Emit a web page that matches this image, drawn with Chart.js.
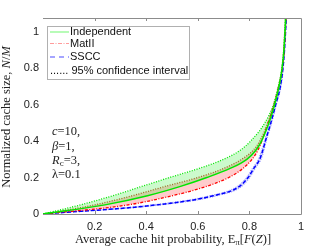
<!DOCTYPE html>
<html>
<head>
<meta charset="utf-8">
<script src="https://cdn.jsdelivr.net/npm/chart.js@4/dist/chart.umd.min.js"></script>
<style>
html,body{margin:0;padding:0;background:#fff;}
#wrap{position:relative;width:332px;height:249px;}
</style>
</head>
<body>
<div id="wrap"><canvas id="c" width="332" height="249"></canvas></div>
<script>
// Normalized cache size N/M (shared y grid)
const sizeGrid = [0, 0.05, 0.1, 0.15, 0.2, 0.25, 0.3, 0.35, 0.4, 0.5, 0.6, 0.7, 0.8, 0.9, 1.0, 1.08];
// Average cache hit probability for each series at those sizes
const indepHi = [0, 0.145, 0.27, 0.38, 0.49, 0.605, 0.70, 0.765, 0.805, 0.860, 0.893, 0.912, 0.926, 0.933, 0.937, 0.940];
const indepMean = [0, 0.24, 0.405, 0.53, 0.635, 0.725, 0.79, 0.825, 0.847, 0.876, 0.898, 0.915, 0.927, 0.934, 0.938, 0.941];
const matHi = [0, 0.20, 0.345, 0.47, 0.60, 0.70, 0.77, 0.815, 0.840, 0.872, 0.895, 0.913, 0.926, 0.933, 0.937, 0.940];
const matMean = [0, 0.33, 0.50, 0.63, 0.72, 0.775, 0.81, 0.833, 0.848, 0.872, 0.895, 0.913, 0.928, 0.935, 0.939, 0.942];
const ssccHi = [0, 0.42, 0.645, 0.75, 0.788, 0.811, 0.834, 0.847, 0.858, 0.879, 0.899, 0.917, 0.928, 0.935, 0.939, 0.942];
const ssccMean = [0, 0.44, 0.66, 0.76, 0.795, 0.817, 0.84, 0.852, 0.862, 0.883, 0.902, 0.920, 0.930, 0.936, 0.940, 0.943];
const ssccLo = [0, 0.46, 0.675, 0.77, 0.802, 0.823, 0.846, 0.857, 0.866, 0.887, 0.905, 0.923, 0.932, 0.937, 0.941, 0.944];
const xTicks = [0.2, 0.4, 0.6, 0.8, 1];
const yTicks = [0, 0.2, 0.4, 0.6, 0.8, 1];
const legendLabels = ['Independent', 'MatII', 'SSCC', '...... 95% confidence interval'];

const pts = xs => xs.map((x, i) => ({x: x, y: sizeGrid[i]}));

const LEFT = 43, TOP = 18, RIGHT = 301, BOTTOM = 214;

const frame = {
  id: 'frame',
  afterDraw(chart) {
    const ctx = chart.ctx;
    const xs = chart.scales.x;
    ctx.save();
    ctx.strokeStyle = '#8c8c8c';
    ctx.lineWidth = 1;
    ctx.beginPath();
    ctx.moveTo(LEFT, TOP + 0.5); ctx.lineTo(RIGHT + 0.5, TOP + 0.5);
    ctx.lineTo(RIGHT + 0.5, BOTTOM + 0.5); ctx.lineTo(LEFT, BOTTOM + 0.5);
    for (const v of [0.2, 0.4, 0.6, 0.8]) {
      const px = Math.round(xs.getPixelForValue(v)) + 0.5;
      ctx.moveTo(px, BOTTOM); ctx.lineTo(px, BOTTOM - 3);
      ctx.moveTo(px, TOP); ctx.lineTo(px, TOP + 3);
    }
    ctx.stroke();

    // legend
    const lx = 47, ly = 26, lw = 142, lh = 53;
    ctx.fillStyle = '#fff';
    ctx.fillRect(lx, ly, lw, lh);
    ctx.strokeStyle = '#b0b0b0';
    ctx.strokeRect(lx + 0.5, ly + 0.5, lw, lh);
    const rows = [32, 43.5, 57, 71];
    ctx.lineWidth = 1.2;
    ctx.strokeStyle = '#88f888'; ctx.setLineDash([]);
    ctx.beginPath(); ctx.moveTo(50, rows[0]); ctx.lineTo(69, rows[0]); ctx.stroke();
    ctx.strokeStyle = '#ff9a9a'; ctx.setLineDash([4, 1.5, 1, 1.5]);
    ctx.beginPath(); ctx.moveTo(50, rows[1]); ctx.lineTo(69, rows[1]); ctx.stroke();
    ctx.strokeStyle = '#8888ff'; ctx.setLineDash([5, 4]); ctx.lineWidth = 1.6;
    ctx.beginPath(); ctx.moveTo(50, rows[2]); ctx.lineTo(69, rows[2]); ctx.stroke();
    ctx.setLineDash([]);
    ctx.fillStyle = '#111';
    ctx.font = '11px "Liberation Sans", Arial, sans-serif';
    ctx.textBaseline = 'middle';
    ctx.textAlign = 'left';
    ctx.fillText(legendLabels[0], 70, rows[0]);
    ctx.fillText(legendLabels[1], 70, rows[1]);
    ctx.fillText(legendLabels[2], 70, rows[2]);
    ctx.fillText(legendLabels[3], 50, rows[3]);

    // annotation
    const serif = '"Liberation Serif", "DejaVu Serif", serif';
    const put = (parts, x, y) => {
      let cx = x;
      for (const p of parts) {
        const size = p.sub ? 9 : 12.5;
        ctx.font = (p.it ? 'italic ' : '') + size + 'px ' + serif;
        ctx.fillText(p.t, cx, y + (p.sub ? 3 : 0));
        cx += ctx.measureText(p.t).width;
      }
    };
    ctx.fillStyle = '#222';
    ctx.textBaseline = 'middle';
    put([{t: 'c', it: true}, {t: '=10,'}], 52, 132);
    put([{t: 'β', it: true}, {t: '=1,'}], 52, 147);
    put([{t: 'R', it: true}, {t: 'c', sub: true}, {t: '=3,'}], 52, 161);
    put([{t: 'λ=0.1'}], 52, 175);

    // x title
    const xt = [{t: 'Average cache hit probability, E'}, {t: 'π', sub: true}, {t: '['}, {t: 'F', it: true}, {t: '('}, {t: 'Z', it: true}, {t: ')]'}];
    let w = 0;
    for (const p of xt) { ctx.font = (p.it ? 'italic ' : '') + (p.sub ? 9 : 12.5) + 'px ' + serif; w += ctx.measureText(p.t).width; }
    put(xt, 173 - w / 2, 240);

    // y title
    ctx.save();
    ctx.translate(7, 117);
    ctx.rotate(-Math.PI / 2);
    const yt = [{t: 'Normalized cache size, '}, {t: 'N', it: true}, {t: '/'}, {t: 'M', it: true}];
    w = 0;
    for (const p of yt) { ctx.font = (p.it ? 'italic ' : '') + '12.5px ' + serif; w += ctx.measureText(p.t).width; }
    put(yt, -w / 2, 0);
    ctx.restore();
    ctx.restore();
  }
};

const G = '#00e600', R = '#ff0000', B = '#0000ff';
new Chart(document.getElementById('c'), {
  type: 'line',
  data: {
    datasets: [
      {label: 'Independent', data: pts(indepMean), borderColor: G, borderWidth: 1.5, pointRadius: 0, fill: false, order: 1},
      {label: 'indepHi', data: pts(indepHi), borderColor: G, borderWidth: 1.3, borderDash: [1, 1.5], pointRadius: 0,
        fill: {target: 0}, backgroundColor: 'rgba(0,230,0,0.2)', order: 2},
      {label: 'MatII', data: pts(matMean), borderColor: R, borderWidth: 1.3, borderDash: [3, 1.5, 1, 1.5], pointRadius: 0, fill: false, order: 3},
      {label: 'matHi', data: pts(matHi), borderColor: '#c0502a', borderWidth: 1.3, borderDash: [1, 1.5], pointRadius: 0,
        fill: {target: 2}, backgroundColor: 'rgba(255,0,0,0.2)', order: 4},
      {label: 'SSCC', data: pts(ssccMean), borderColor: B, borderWidth: 1.5, borderDash: [4, 2], pointRadius: 0, fill: false, order: 5},
      {label: 'ssccHi', data: pts(ssccHi), borderColor: 'rgba(90,90,255,0.6)', borderWidth: 1, borderDash: [1, 1.5], pointRadius: 0,
        fill: {target: 6}, backgroundColor: 'rgba(0,0,255,0.15)', order: 6},
      {label: 'ssccLo', data: pts(ssccLo), borderColor: 'rgba(90,90,255,0.6)', borderWidth: 1, borderDash: [1, 1.5], pointRadius: 0, fill: false, order: 7}
    ]
  },
  options: {
    responsive: false,
    animation: false,
    devicePixelRatio: 1,
    layout: {padding: {top: TOP, right: 332 - RIGHT, left: 0, bottom: 0}},
    elements: {line: {tension: 0.3, cubicInterpolationMode: 'monotone'}},
    plugins: {legend: {display: false}, tooltip: {enabled: false}},
    scales: {
      x: {
        type: 'linear', min: 0, max: 1,
        grid: {display: false, drawTicks: false},
        border: {display: false},
        afterFit: s => { s.height = 249 - BOTTOM; },
        afterBuildTicks: s => { s.ticks = xTicks.map(v => ({value: v})); },
        ticks: {padding: 6, color: '#222', font: {family: '"Liberation Sans", Arial, sans-serif', size: 11},
          maxRotation: 0, autoSkip: false, callback: v => String(v)}
      },
      y: {
        type: 'linear', min: 0, max: 1.075,
        grid: {display: false, drawTicks: false},
        border: {display: false},
        afterFit: s => { s.width = LEFT; },
        afterBuildTicks: s => { s.ticks = yTicks.map(v => ({value: v})); },
        ticks: {padding: 4, color: '#222', font: {family: '"Liberation Sans", Arial, sans-serif', size: 11},
          autoSkip: false, callback: v => String(v)}
      }
    }
  },
  plugins: [frame]
});
</script>
</body>
</html>
